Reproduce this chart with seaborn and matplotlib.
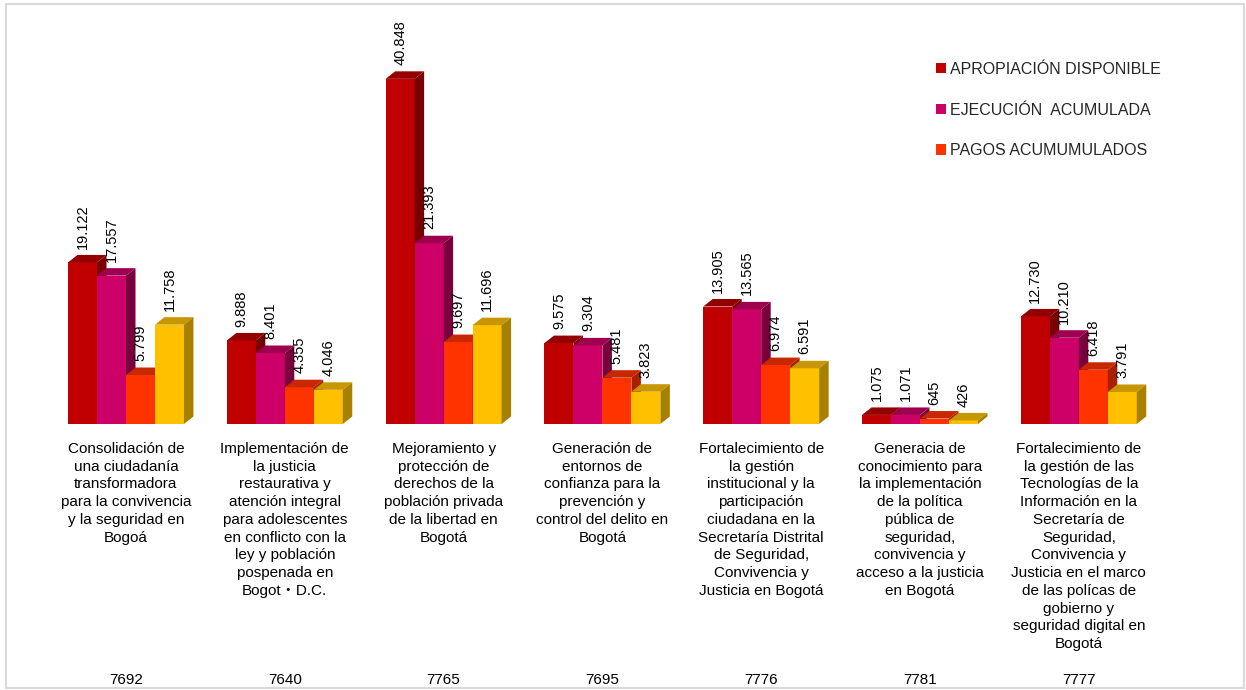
import matplotlib
matplotlib.use("Agg")
import matplotlib.pyplot as plt
import matplotlib.transforms as mtransforms
from matplotlib.patches import Polygon, Patch, Rectangle
import numpy as np
import pandas as pd
import seaborn as sns

# --- data (millions of pesos) -------------------------------------------
codigos = ["7692", "7640", "7765", "7695", "7776", "7781", "7777"]
proyectos = [
    "Consolidación de\nuna ciudadanía\ntransformadora\npara la convivencia\ny la seguridad en\nBogoá",
    "Implementación de\nla justicia\nrestaurativa y\natención integral\npara adolescentes\nen conflicto con la\nley y población\npospenada en\nBogot・D.C.",
    "Mejoramiento y\nprotección de\nderechos de la\npoblación privada\nde la libertad en\nBogotá",
    "Generación de\nentornos de\nconfianza para la\nprevención y\ncontrol del delito en\nBogotá",
    "Fortalecimiento de\nla gestión\ninstitucional y la\nparticipación\nciudadana en la\nSecretaría Distrital\nde Seguridad,\nConvivencia y\nJusticia en Bogotá",
    "Generacia de\nconocimiento para\nla implementación\nde la política\npública de\nseguridad,\nconvivencia y\nacceso a la justicia\nen Bogotá",
    "Fortalecimiento de\nla gestión de las\nTecnologías de la\nInformación en la\nSecretaría de\nSeguridad,\nConvivencia y\nJusticia en el marco\nde las polícas de\ngobierno y\nseguridad digital en\nBogotá",
]
apropiacion = [19122, 9888, 40848, 9575, 13905, 1075, 12730]
ejecucion = [17557, 8401, 21393, 9304, 13565, 1071, 10210]
pagos = [5799, 4355, 9697, 5481, 6974, 645, 6418]
giros = [11758, 4046, 11696, 3823, 6591, 426, 3791]

series = ["APROPIACIÓN DISPONIBLE", "EJECUCIÓN  ACUMULADA", "PAGOS ACUMUMULADOS", "GIROS"]
en_leyenda = [True, True, True, False]
frente = ["#C00000", "#CC0066", "#FF3300", "#FFC000"]
techo = ["#940000", "#9E004F", "#C82800", "#C89600"]
lado = ["#780000", "#7A003D", "#A82000", "#A88000"]

df = pd.DataFrame({
    "codigo": np.repeat(codigos, 4),
    "serie": np.tile(series, len(codigos)),
    "valor": np.column_stack([apropiacion, ejecucion, pagos, giros]).ravel(),
})

# --- figure --------------------------------------------------------------
W, H, DPI = 1246, 690, 100
sns.set_theme(style="white")
plt.rcParams["font.family"] = ["Liberation Sans", "Noto Sans CJK JP", "DejaVu Sans"]

fig = plt.figure(figsize=(W / DPI, H / DPI), dpi=DPI)
fig.patch.set_facecolor("white")
base_px = 424
top_px = 20
px_per_cat = 158.8
left_px = 126 - 0.5 * px_per_cat
ax = fig.add_axes([left_px / W, (H - base_px) / H,
                   7 * px_per_cat / W, (base_px - top_px) / H])
ymax = (base_px - top_px) / 8.45 * 1000

sns.barplot(data=df, x="codigo", y="valor", hue="serie", order=codigos,
            hue_order=series, palette=frente, saturation=1, width=0.73,
            legend=False, ax=ax, linewidth=0, errorbar=None)
ax.set_xlim(-0.5, 6.5)
ax.set_ylim(0, ymax)
ax.set_axis_off()

# depth of the 3-D extrusion, in data units
inv = ax.transData.inverted()
o = ax.transData.transform((0, 0))
x0, y0 = inv.transform(o)
x1, y1 = inv.transform(o + np.array([9.5, 7.5]))
dx, dy = x1 - x0, y1 - y0

bars = sorted(ax.patches, key=lambda p: p.get_x())
for k, p in enumerate(bars):
    x, w, h = p.get_x(), p.get_width(), p.get_height()
    s = k % 4
    p.set_zorder(2 + 3 * k)
    ax.add_patch(Polygon([(x, h), (x + w, h), (x + w + dx, h + dy), (x + dx, h + dy)],
                         closed=True, facecolor=techo[s], edgecolor="none",
                         zorder=3 + 3 * k))
    ax.add_patch(Polygon([(x + w, 0), (x + w + dx, dy), (x + w + dx, h + dy), (x + w, h)],
                         closed=True, facecolor=lado[s], edgecolor="none",
                         zorder=4 + 3 * k))
    etiqueta = f"{int(h):,}".replace(",", ".")
    ax.annotate(etiqueta, (x + w / 2, h), xytext=(0, 10), textcoords="offset points",
                rotation=90, ha="center", va="bottom", fontsize=10.5,
                color="#000000", zorder=200)

# category descriptions and project codes under the bars
blend = mtransforms.blended_transform_factory(ax.transData, fig.transFigure)
for i, (txt, cod) in enumerate(zip(proyectos, codigos)):
    ax.text(i, (H - 442) / H, txt, transform=blend, ha="center", va="top",
            multialignment="center", fontsize=11, linespacing=1.34,
            color="#000000", clip_on=False)
    ax.text(i, (H - 680) / H, cod, transform=blend, ha="center", va="center",
            fontsize=11, color="#000000", clip_on=False)

# legend (first three series)
handles = [Patch(facecolor=frente[i], edgecolor="none", label=series[i])
           for i in range(4) if en_leyenda[i]]
fig.legend(handles=handles, loc="upper left",
           bbox_to_anchor=(936 / W, (H - 62) / H), frameon=False,
           fontsize=11.5, handlelength=0.6, handleheight=0.6, handletextpad=0.3,
           labelspacing=1.6, borderpad=0, borderaxespad=0)

# light frame around the chart area
fig.patches.append(Rectangle((6 / W, 2 / H), 1238 / W, 684 / H,
                             transform=fig.transFigure, fill=False,
                             edgecolor="#D9D9D9", linewidth=1.5))

fig.savefig("out.png", dpi=DPI, facecolor="white")
